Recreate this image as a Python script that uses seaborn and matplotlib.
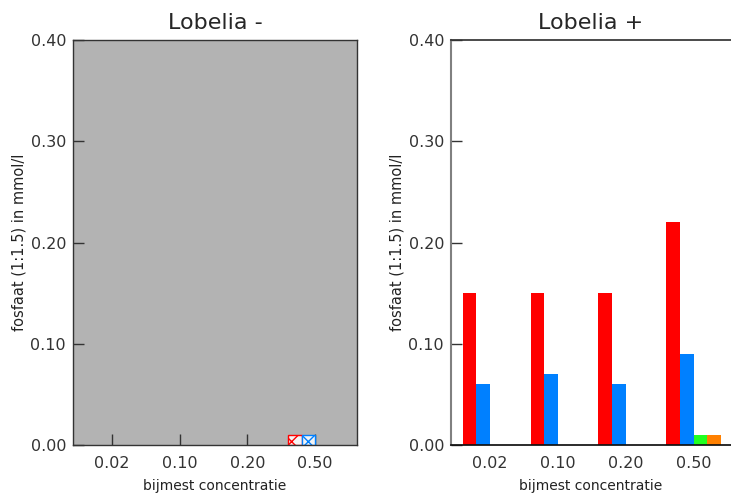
import numpy as np
import pandas as pd
import matplotlib
matplotlib.use("Agg")
import matplotlib.pyplot as plt
import seaborn as sns

categories = ["0.02", "0.10", "0.20", "0.50"]
series = ["s1", "s2", "s3", "s4"]
colors = ["#ff0000", "#0080ff", "#20ff20", "#ff8000"]

# Lobelia - (values near zero)
left_red = [0.0005, 0.0005, 0.0005, 0.01]
left_blue = [0.0005, 0.0005, 0.0005, 0.01]
left_green = [0.0005, 0.0005, 0.0005, 0.0]
left_orange = [0.0, 0.0, 0.0, 0.0]

# Lobelia +
right_red = [0.15, 0.15, 0.15, 0.22]
right_blue = [0.06, 0.07, 0.06, 0.09]
right_green = [0.0, 0.0, 0.0, 0.01]
right_orange = [0.0, 0.0, 0.0, 0.01]

yticks = [0.0, 0.1, 0.2, 0.3, 0.4]
ytick_labels = ["0.00", "0.10", "0.20", "0.30", "0.40"]


def make_df(vals):
    rows = []
    for s, v in zip(series, vals):
        for c, y in zip(categories, v):
            rows.append({"cat": c, "series": s, "val": y})
    return pd.DataFrame(rows)


df_left = make_df([left_red, left_blue, left_green, left_orange])
df_right = make_df([right_red, right_blue, right_green, right_orange])

sns.set_theme(style="white")
plt.rcParams["font.family"] = ["DejaVu Sans"]

fig = plt.figure(figsize=(7.31, 4.99), dpi=100)
ax1 = fig.add_axes([0.0999, 0.1082, 0.3885, 0.8116])
ax2 = fig.add_axes([0.617, 0.1082, 0.383, 0.8116])

pal = dict(zip(series, colors))
for ax, df in [(ax1, df_left), (ax2, df_right)]:
    sns.barplot(data=df, x="cat", y="val", hue="series", order=categories,
                hue_order=series, palette=pal, width=0.8, saturation=1,
                legend=False, ax=ax, linewidth=0, errorbar=None)
    ax.set_ylim(0, 0.4)
    ax.set_yticks(yticks)
    ax.set_yticklabels(ytick_labels)
    ax.set_ylabel("fosfaat (1:1.5) in mmol/l", fontsize=10.5, color="#222222", labelpad=3)
    ax.set_xlabel("bijmest concentratie", fontsize=10, color="#222222", labelpad=6)
    ax.tick_params(axis="both", direction="in", length=8, width=1,
                   labelsize=11.5, colors="#333333", pad=5,
                   left=True, bottom=True)
    ax.tick_params(axis="x", pad=8)

ax2.tick_params(axis="x", length=0, pad=8)

# hatch the 0.50 bars for red and blue in the left panel
for k in (0, 1):
    bar = ax1.containers[k][3]
    bar.set_facecolor("#f4f4f4")
    bar.set_edgecolor(colors[k])
    bar.set_hatch("xx")
    bar.set_linewidth(1)

ax1.set_facecolor("#b3b3b3")
ax1.set_xlim(-0.576, 3.62)
for sp in ax1.spines.values():
    sp.set_visible(True)
    sp.set_color("#333333")
    sp.set_linewidth(1)
ax1.set_title("Lobelia -", fontsize=16, pad=8)

ax2.set_facecolor("white")
ax2.set_xlim(-0.57, 3.55)
ax2.spines["right"].set_visible(False)
ax2.spines["top"].set_color("#333333")
ax2.spines["bottom"].set_color("#111111")
ax2.spines["left"].set_color("#808080")
ax2.spines["left"].set_linewidth(1.5)
ax2.set_title("Lobelia +", fontsize=16, pad=8)

fig.savefig("out.png", dpi=100)
